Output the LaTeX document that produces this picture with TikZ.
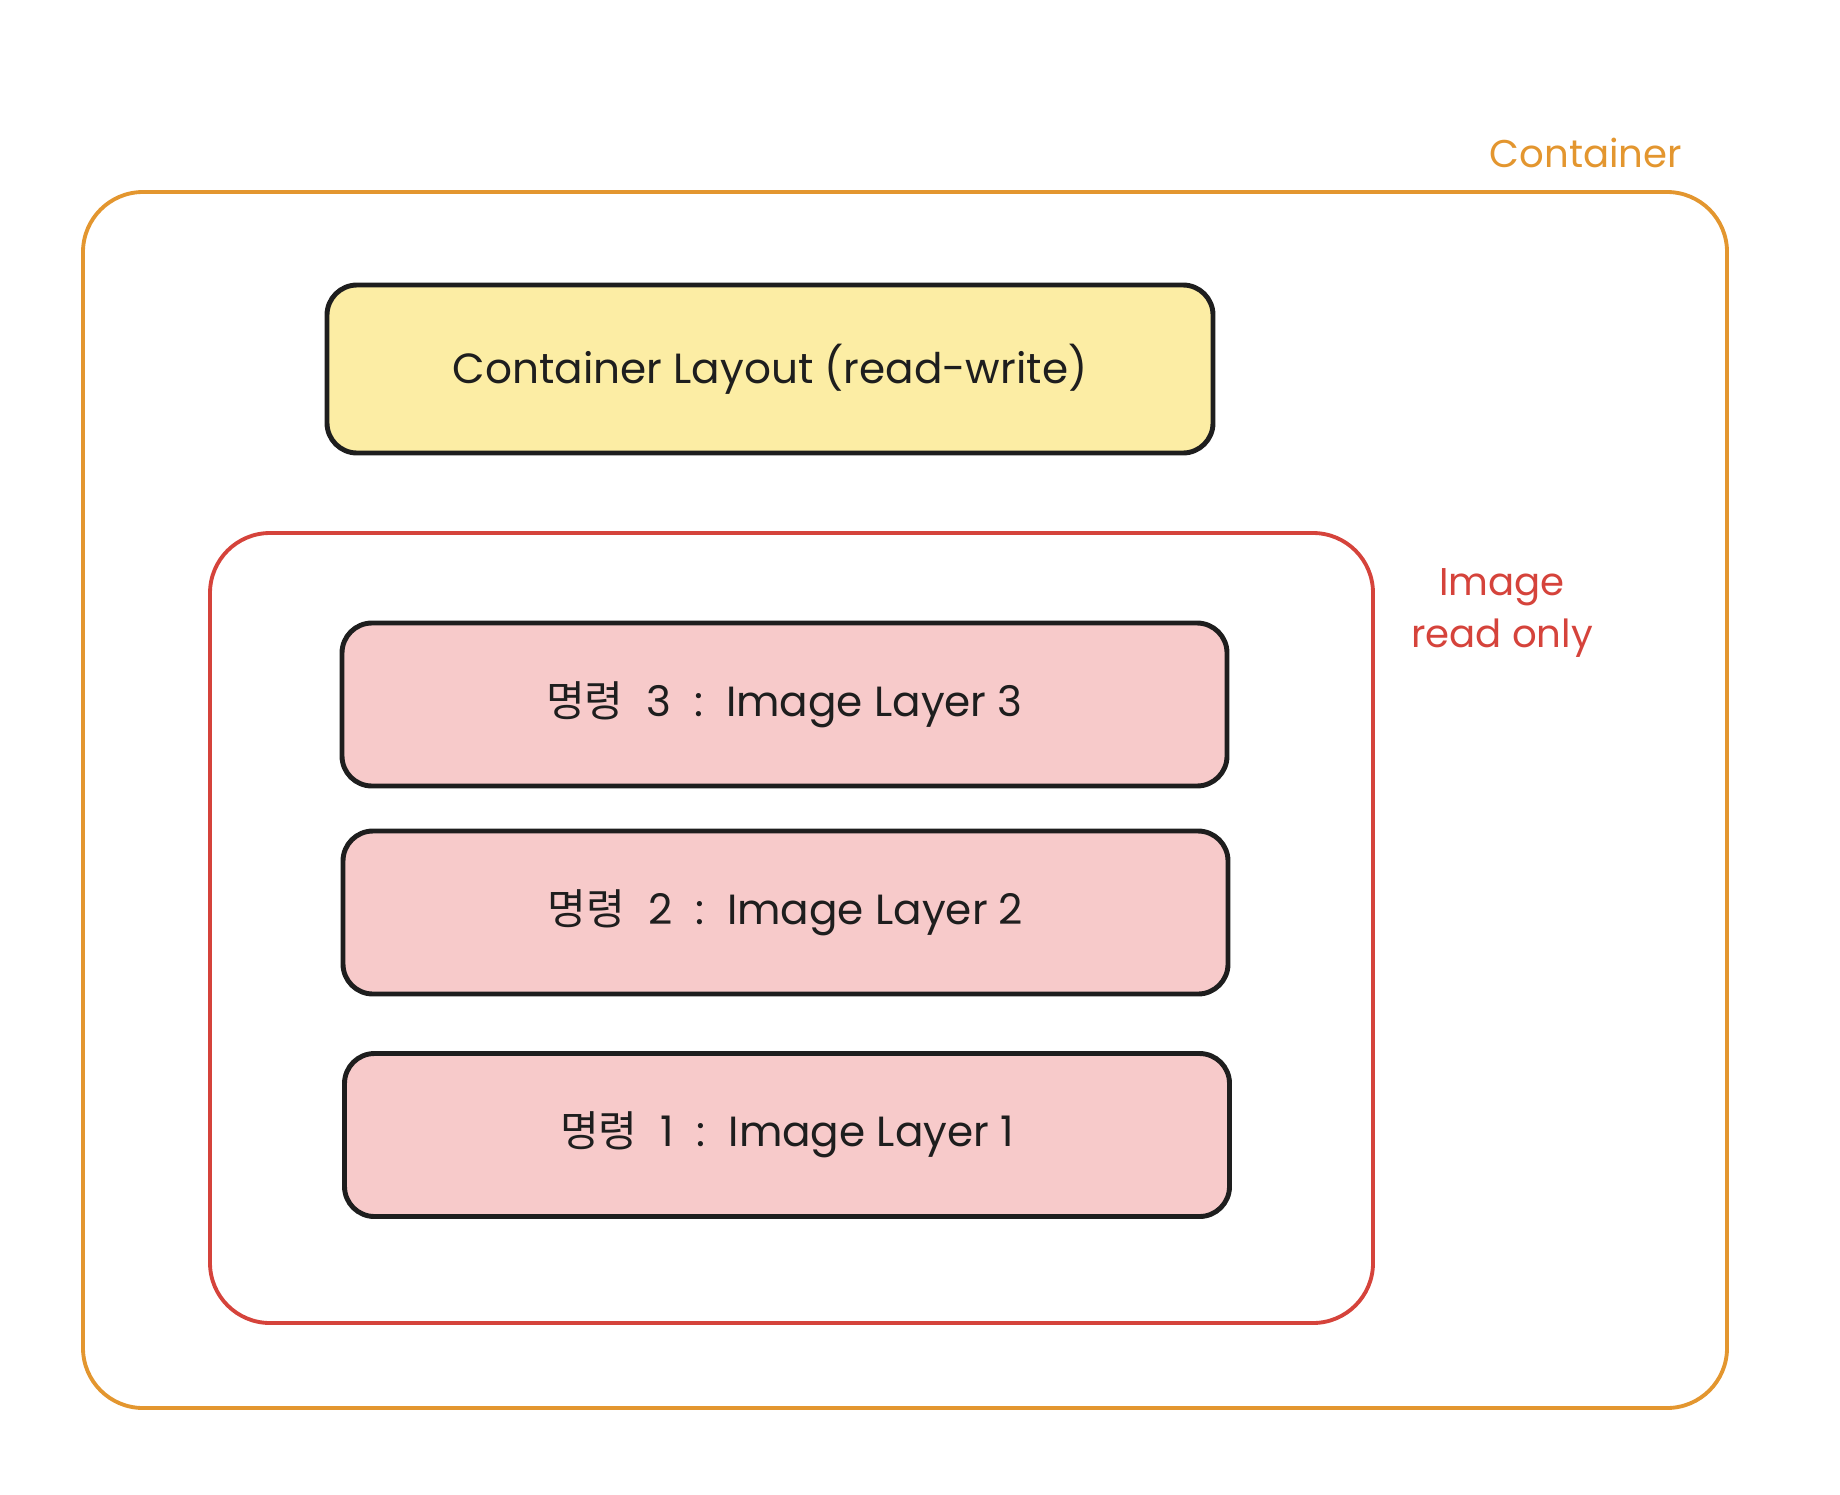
\documentclass[tikz,border=0pt]{standalone}
\usepackage{fontspec}
\setmainfont{Poppins}
\newfontfamily\kr{Noto Sans CJK KR}
\definecolor{boxorange}{HTML}{E3962F}
\definecolor{boxred}{HTML}{D5433B}
\definecolor{rwyellow}{HTML}{FCEDA4}
\definecolor{layerpink}{HTML}{F7CACA}
\definecolor{ink}{HTML}{1E1E1E}
\newcommand{\gap}{\hspace{6.5pt}}
\tikzset{
  frame/.style={draw, line width=1.1pt, rounded corners=0.6cm},
  layerbox/.style={draw=ink, line width=1.4pt, rounded corners=0.3cm, fill=layerpink,
    minimum width=8.85cm, minimum height=1.63cm, text=ink, font=\fontsize{12}{14}\selectfont},
  tag/.style={font=\fontsize{11}{15}\selectfont, align=center}
}
\begin{document}
\begin{tikzpicture}
\useasboundingbox (0,0) rectangle (18.4,14.94);
% Outer container
\draw[frame, boxorange] (0.83,0.86) rectangle (17.27,13.02);
\node[tag, text=boxorange] (ctag) at (15.86,13.41) {Container};

% Writable layer on top
\node[layerbox, fill=rwyellow, minimum width=8.86cm, minimum height=1.68cm] (rw) at (7.70,11.25) {Container Layout (read-write)};

% Read-only image
\draw[frame, boxred] (2.10,1.71) rectangle (13.73,9.61);
\node[tag, text=boxred] (itag) at (15.02,8.81) {Image\\read only};

% Image layers
\node[layerbox] (l3) at (7.845,7.895) {{\kr 명령}\gap 3\gap :\gap Image Layer 3};
\node[layerbox] (l2) at (7.855,5.815) {{\kr 명령}\gap 2\gap :\gap Image Layer 2};
\node[layerbox] (l1) at (7.87,3.59) {{\kr 명령}\gap 1\gap :\gap Image Layer 1};
\end{tikzpicture}
\end{document}
